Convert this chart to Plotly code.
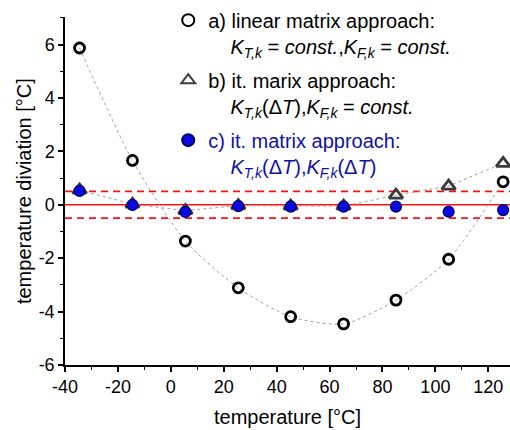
import plotly.graph_objects as go

# Calibration temperatures [°C]
temp_a = [-34.5, -14.5, 5.5, 25.5, 45.3, 65.3, 85.1, 105.0, 125.6]
temp_b = [-34.5, -14.5, 5.5, 25.5, 45.3, 65.3, 85.1, 105.0, 125.6]
temp_c = [-34.5, -14.5, 5.5, 25.5, 45.3, 65.3, 85.1, 105.0, 125.6]

# Temperature deviation [°C] for the three approaches
dev_a = [5.87, 1.66, -1.36, -3.11, -4.19, -4.46, -3.57, -2.04, 0.86]
dev_b = [0.55, 0.02, -0.22, -0.03, -0.05, -0.05, 0.36, 0.70, 1.55]
dev_c = [0.52, -0.01, -0.27, -0.05, -0.07, -0.07, -0.07, -0.26, -0.20]

tol = 0.5

# tick labels (plain hyphen as the minus sign)
x_tick_vals = [-40, -20, 0, 20, 40, 60, 80, 100, 120]
x_tick_text = ["-40", "-20", "0", "20", "40", "60", "80", "100", "120"]
y_tick_vals = [-6, -4, -2, 0, 2, 4, 6]
y_tick_text = ["-6", "-4", "-2", "0", "2", "4", "6"]

indent = "&#160;&#160;&#160;&#160;"
name_a = ("a) linear matrix approach:<br>" + indent +
          "<i>K</i><sub><i>T,k</i></sub> = <i>const.</i>,"
          "<i>K</i><sub><i>F,k</i></sub> = <i>const.</i>")
name_b = ("b) it. marix approach:<br>" + indent +
          "<i>K</i><sub><i>T,k</i></sub>(Δ<i>T</i>),"
          "<i>K</i><sub><i>F,k</i></sub> = <i>const.</i>")
name_c = ("<span style='color:#1010a8'>c) it. matrix approach:<br>" + indent +
          "<i>K</i><sub><i>T,k</i></sub>(Δ<i>T</i>),"
          "<i>K</i><sub><i>F,k</i></sub>(Δ<i>T</i>)</span>")

fig = go.Figure()

# smooth guide through the linear-approach points
fig.add_trace(go.Scatter(x=temp_a, y=dev_a, mode="lines",
                         line=dict(color="#a0a0a0", width=1, dash="dot", shape="spline", smoothing=0.7),
                         showlegend=False, hoverinfo="skip"))
# guide through the iterative (b) points
fig.add_trace(go.Scatter(x=temp_b, y=dev_b, mode="lines",
                         line=dict(color="#a0a0a0", width=1, dash="dot"),
                         showlegend=False, hoverinfo="skip"))

fig.add_trace(go.Scatter(x=temp_a, y=dev_a, mode="markers", name=name_a, legendgroup="a",
                         marker=dict(symbol="circle-open", size=10, color="black",
                                     line=dict(width=2.8, color="black"))))
fig.add_trace(go.Scatter(x=temp_b, y=dev_b, mode="markers", name=name_b, legendgroup="b",
                         marker=dict(symbol="triangle-up-open", size=12, color="#3c3c3c",
                                     line=dict(width=2.8, color="#3c3c3c"))))
fig.add_trace(go.Scatter(x=temp_c, y=dev_c, mode="markers", name=name_c, legendgroup="c",
                         marker=dict(symbol="circle", size=11, color="#0a0ae0",
                                     line=dict(width=1.2, color="#000066"))))

# tolerance band
fig.add_shape(type="line", xref="x domain", yref="y", x0=0, x1=1, y0=0, y1=0,
              line=dict(color="#ff1010", width=1.6), layer="below")
for lvl in (tol, -tol):
    fig.add_shape(type="line", xref="x domain", yref="y", x0=0, x1=1, y0=lvl, y1=lvl,
                  line=dict(color="#ff1010", width=1.6, dash="7px,5px"), layer="below")

font_main = "Liberation Sans, Arial, sans-serif"

# axis titles placed as annotations
fig.add_annotation(text="temperature diviation [°C]", xref="paper", yref="paper",
                   x=-0.092, y=0.5, xanchor="center", yanchor="middle",
                   textangle=-90, showarrow=False, font=dict(size=20, family=font_main))
fig.add_annotation(text="temperature [°C]", xref="paper", yref="paper",
                   x=0.5, y=-0.149, xanchor="center", yanchor="middle",
                   showarrow=False, font=dict(size=20, family=font_main))

fig.update_layout(
    width=510, height=430,
    margin=dict(l=65, r=0, t=17, b=65, autoexpand=False),
    paper_bgcolor="white", plot_bgcolor="white",
    font=dict(family=font_main, size=18, color="black"),
    showlegend=True,
    legend=dict(x=0.232, y=1.047, xanchor="left", yanchor="top",
                bgcolor="rgba(0,0,0,0)", valign="top", traceorder="grouped",
                font=dict(size=20, family=font_main, color="black"),
                itemsizing="constant", tracegroupgap=5),
    xaxis=dict(range=[-40, 128.2], tickmode="array", tickvals=x_tick_vals, ticktext=x_tick_text,
               showgrid=False, zeroline=False, showline=True, linecolor="black", linewidth=1.5,
               ticks="outside", ticklen=5, tickwidth=1.5, tickcolor="black",
               minor=dict(tickmode="linear", tick0=-40, dtick=10, ticks="outside",
                          ticklen=3, tickwidth=1.2, tickcolor="black"),
               tickfont=dict(size=18), automargin=False),
    yaxis=dict(range=[-6, 7.03], tickmode="array", tickvals=y_tick_vals, ticktext=y_tick_text,
               showgrid=False, zeroline=False, showline=True, linecolor="black", linewidth=1.5,
               ticks="outside", ticklen=5, tickwidth=1.5, tickcolor="black",
               minor=dict(tickmode="linear", tick0=-6, dtick=1, ticks="outside",
                          ticklen=3, tickwidth=1.2, tickcolor="black"),
               tickfont=dict(size=18), automargin=False),
)

fig.write_html("out.html")
